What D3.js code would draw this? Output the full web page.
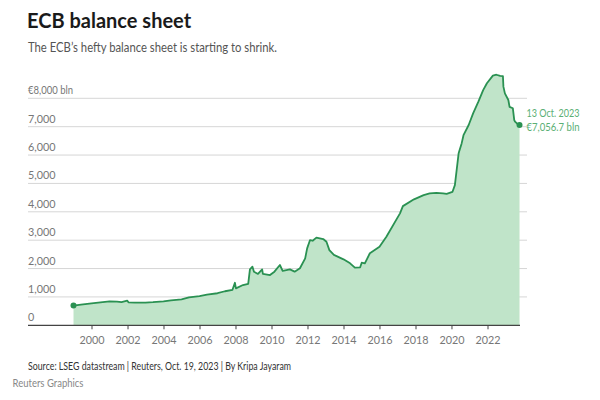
<!DOCTYPE html>
<html><head><meta charset="utf-8">
<script src="https://cdn.jsdelivr.net/npm/d3@7"></script>
<style>body{margin:0;background:#fff;font-family:Lato,sans-serif}</style>
</head><body><svg id="c" width="600" height="400" font-family="Lato, sans-serif"></svg>
<script>
const dates = ["1999-01-01","1999-06-01","2000-01-01","2000-07-01","2001-01-01","2001-06-01","2001-09-01","2001-12-25","2002-01-20","2002-06-01","2003-01-01","2003-06-01","2004-01-01","2004-06-01","2005-01-01","2005-06-01","2006-01-01","2006-06-01","2007-01-01","2007-06-01","2007-11-01","2007-12-20","2008-01-10","2008-06-01","2008-09-15","2008-10-20","2008-12-10","2009-01-10","2009-04-01","2009-06-25","2009-07-10","2009-12-01","2010-03-01","2010-06-20","2010-08-15","2011-01-10","2011-04-15","2011-08-01","2011-11-15","2011-12-25","2012-02-20","2012-04-15","2012-06-30","2012-11-15","2013-01-20","2013-03-20","2013-06-20","2014-01-01","2014-05-15","2014-08-20","2014-12-05","2015-01-05","2015-03-10","2015-06-20","2016-01-01","2016-05-20","2017-02-20","2017-04-20","2017-12-01","2018-06-15","2018-10-15","2019-03-01","2019-07-15","2019-09-25","2020-01-20","2020-03-10","2020-05-25","2020-07-25","2020-09-01","2020-12-15","2021-03-15","2021-06-30","2021-10-05","2021-12-20","2022-04-20","2022-06-30","2022-09-15","2022-11-10","2022-11-20","2022-12-20","2023-02-28","2023-03-25","2023-05-30","2023-06-28","2023-07-15","2023-09-20","2023-10-13"];
const values = [697,730,775,810,840,835,820,870,810,800,800,815,845,880,915,985,1030,1080,1130,1200,1250,1500,1300,1420,1460,1970,2065,1890,1810,1970,1810,1770,1890,2125,1920,1970,1890,2010,2360,2710,3000,2980,3090,3040,2945,2650,2480,2325,2185,2030,2045,2205,2185,2540,2770,3120,3945,4200,4440,4590,4650,4670,4650,4630,4700,4940,6060,6410,6700,7060,7470,7880,8290,8530,8800,8830,8790,8785,8410,8175,7940,7700,7650,7230,7175,7060,7056.7];
const yTicks = [0,1000,2000,3000,4000,5000,6000,7000,8000];
const xTickYears = [2000,2002,2004,2006,2008,2010,2012,2014,2016,2018,2020,2022];
const title = "ECB balance sheet";
const subtitle = "The ECB\u2019s hefty balance sheet is starting to shrink.";
const endLabel = ["13 Oct. 2023","\u20ac7,056.7 bln"];
const source = "Source: LSEG datastream | Reuters, Oct. 19, 2023 | By Kripa Jayaram";
const credit = "Reuters Graphics";

const parse = d3.timeParse("%Y-%m-%d");
const data = dates.map((d,i)=>({date:parse(d), value:values[i]}));
const svg = d3.select("#c");
const x = d3.scaleTime().domain([new Date(2000,0,1), new Date(2022,0,1)]).range([91.5,487.5]);
const y = d3.scaleLinear().domain([0,8000]).range([325.3,98.3]);
const gridL = 28, gridR = 527;

svg.append("text").attr("x",27).attr("y",27.5).attr("font-size",20).attr("font-weight",700).attr("fill","#1a1a1a").text(title);
svg.append("text").attr("x",28).attr("y",52).attr("font-size",12.5).attr("fill","#555")
  .attr("textLength",249).attr("lengthAdjust","spacingAndGlyphs").text(subtitle);

// grid
const g = svg.append("g");
g.selectAll("line.grid").data(yTicks.filter(d=>d>0)).join("line")
  .attr("x1",gridL).attr("x2",gridR).attr("y1",d=>y(d)).attr("y2",d=>y(d))
  .attr("stroke","#d6d6d6").attr("stroke-width",1);
g.selectAll("text.yl").data(yTicks).join("text")
  .attr("x",gridL).attr("y",d=>y(d)-4).attr("font-size",10.8).attr("fill","#777")
  .each(function(d){ if(d===8000) d3.select(this).attr("textLength",45).attr("lengthAdjust","spacingAndGlyphs"); })
  .text(d=>d===8000?"\u20ac8,000 bln":d3.format(",")(d));

// area & line
const area = d3.area().x(d=>x(d.date)).y0(y(0)).y1(d=>y(d.value));
const line = d3.line().x(d=>x(d.date)).y(d=>y(d.value));
svg.append("path").datum(data).attr("d",area).attr("fill","#c0e4c9");
svg.append("path").datum(data).attr("d",line).attr("fill","none").attr("stroke","#2a9152").attr("stroke-width",1.8).attr("stroke-linejoin","round");
svg.selectAll("circle.end").data([data[0],data[data.length-1]]).join("circle")
  .attr("cx",d=>x(d.date)).attr("cy",d=>y(d.value)).attr("r",3).attr("fill","#2a9152");

// x axis
const xAxis = d3.axisBottom(x).tickValues(xTickYears.map(yr=>new Date(yr,0,1))).tickFormat(d3.timeFormat("%Y")).tickSize(4).tickSizeOuter(0);
const ax = svg.append("g").attr("transform",`translate(0,${y(0)})`).call(xAxis);
ax.select(".domain").attr("d",`M${gridL},0H${gridR-7}`).attr("stroke","#444").attr("stroke-width",1.2);
ax.selectAll(".tick line").attr("stroke","#444");
ax.selectAll(".tick text").attr("font-size",10.8).attr("fill","#777").attr("font-family","Lato, sans-serif").attr("dy","1.05em");

// end label
const last = data[data.length-1];
svg.selectAll("text.el").data(endLabel).join("text")
  .attr("x",x(last.date)+7).attr("y",(d,i)=>116.5+i*14.5).attr("font-size",10.8).attr("fill","#5aaf74")
  .attr("textLength",53).attr("lengthAdjust","spacingAndGlyphs").text(d=>d);

svg.append("text").attr("x",28).attr("y",370).attr("font-size",10.5).attr("fill","#333")
  .attr("textLength",263).attr("lengthAdjust","spacingAndGlyphs").text(source);
svg.append("text").attr("x",12.5).attr("y",387).attr("font-size",10.5).attr("fill","#888")
  .attr("textLength",71).attr("lengthAdjust","spacingAndGlyphs").text(credit);
</script></body></html>
